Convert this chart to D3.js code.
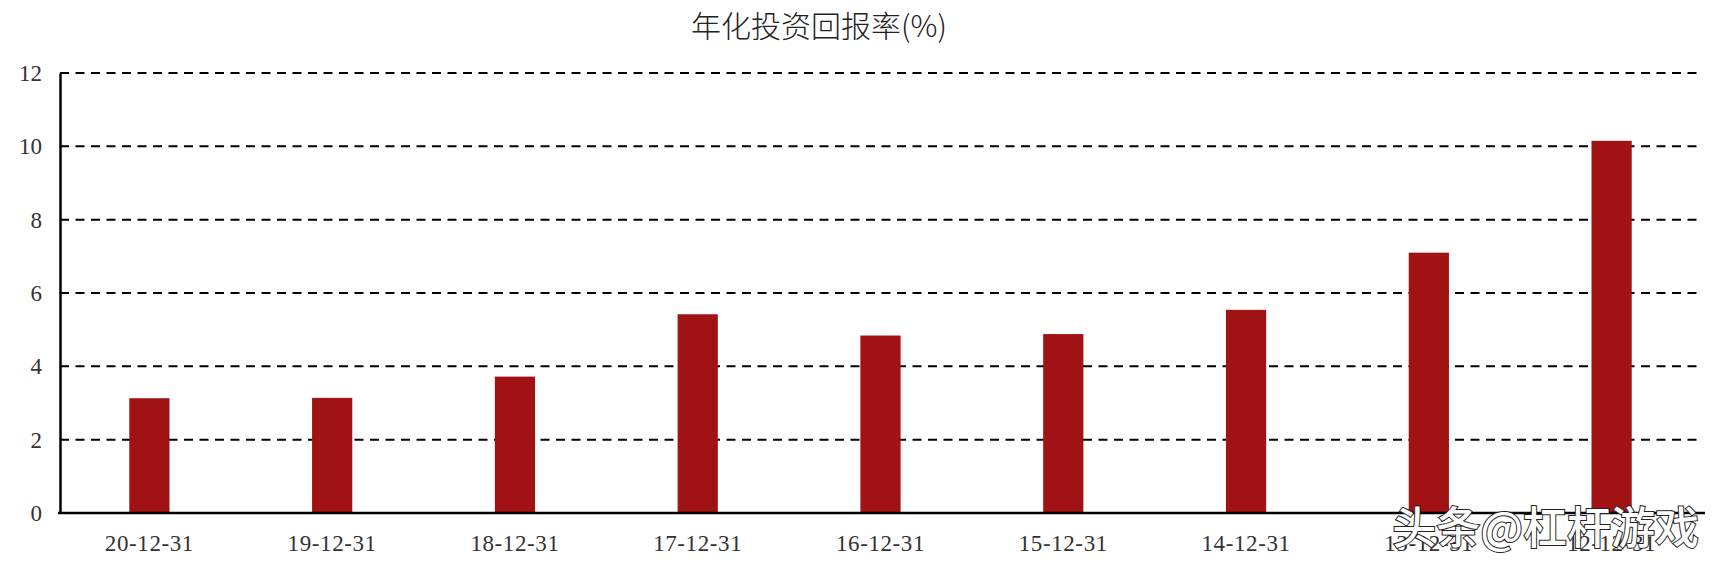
<!DOCTYPE html>
<html>
<head>
<meta charset="utf-8">
<script src="https://cdn.jsdelivr.net/npm/d3@7"></script>
<style>
  html, body { margin: 0; padding: 0; background: #fff; }
  #chart { width: 1716px; height: 568px; }
</style>
</head>
<body>
<div id="chart"></div>
<script>
// chart data
const dates = ['20-12-31', '19-12-31', '18-12-31', '17-12-31', '16-12-31', '15-12-31', '14-12-31', '13-12-31', '12-12-31'];
const returns = [3.13, 3.14, 3.72, 5.42, 4.84, 4.88, 5.54, 7.10, 10.15];
const yTicks = [0, 2, 4, 6, 8, 10, 12];
const title = '年化投资回报率(%)';
const watermark = '头条@杠杆游戏';

function drawChart() {
  const width = 1716;
  const height = 568;
  const left = 60, right = 1703, top = 73, bottom = 513;

  const svg = d3.select('#chart')
    .append('svg')
    .attr('width', width)
    .attr('height', height);

  const x = d3.scaleBand()
    .domain(dates)
    .range([58, right])
    .paddingInner(0.78)
    .paddingOuter(0.39);

  const y = d3.scaleLinear()
    .domain([0, 12])
    .range([bottom, top]);

  // dashed grid lines
  svg.append('g')
    .selectAll('line')
    .data(yTicks.filter((d) => d > 0))
    .enter()
    .append('line')
    .attr('x1', left)
    .attr('x2', 1700)
    .attr('y1', (d) => y(d))
    .attr('y2', (d) => y(d))
    .attr('stroke', '#000')
    .attr('stroke-width', 2)
    .attr('stroke-dasharray', '9,6.5');

  // bars
  svg.append('g')
    .selectAll('rect')
    .data(returns)
    .enter()
    .append('rect')
    .attr('x', (_d, i) => x(dates[i]))
    .attr('y', (d) => y(d))
    .attr('width', x.bandwidth())
    .attr('height', (d) => y(0) - y(d))
    .attr('fill', '#a11214');

  // y axis
  const yAxis = svg.append('g')
    .attr('transform', `translate(${left},0)`)
    .call(d3.axisLeft(y).tickValues(yTicks).tickSize(0).tickPadding(18));
  yAxis.select('.domain').attr('stroke', '#000').attr('stroke-width', 2.5);
  yAxis.selectAll('text')
    .attr('font-family', '"Liberation Serif", serif')
    .attr('font-size', 23)
    .attr('fill', '#333');

  // x axis
  const xAxis = svg.append('g')
    .attr('transform', `translate(0,${bottom})`)
    .call(d3.axisBottom(x).tickSize(0).tickPadding(22).tickSizeOuter(0));
  xAxis.select('.domain')
    .attr('d', `M${left - 2},0H1705`)
    .attr('stroke', '#000')
    .attr('stroke-width', 2.5);
  xAxis.selectAll('text')
    .attr('font-family', '"Liberation Serif", serif')
    .attr('font-size', 23)
    .attr('letter-spacing', 0.6)
    .attr('fill', '#333');

  // title
  svg.append('text')
    .attr('x', 819)
    .attr('y', 37)
    .attr('text-anchor', 'middle')
    .attr('font-family', '"Noto Sans CJK SC", sans-serif')
    .attr('font-weight', 300)
    .attr('font-size', 30)
    .attr('fill', '#222')
    .text(title);

  // watermark
  svg.append('text')
    .attr('x', 1699)
    .attr('y', 544)
    .attr('text-anchor', 'end')
    .attr('font-family', '"Noto Sans CJK SC", sans-serif')
    .attr('font-weight', 500)
    .attr('font-size', 44)
    .attr('fill', '#fff')
    .attr('stroke', '#222')
    .attr('stroke-width', 2)
    .attr('paint-order', 'stroke')
    .text(watermark);
}

document.addEventListener('DOMContentLoaded', drawChart);
</script>
</body>
</html>
